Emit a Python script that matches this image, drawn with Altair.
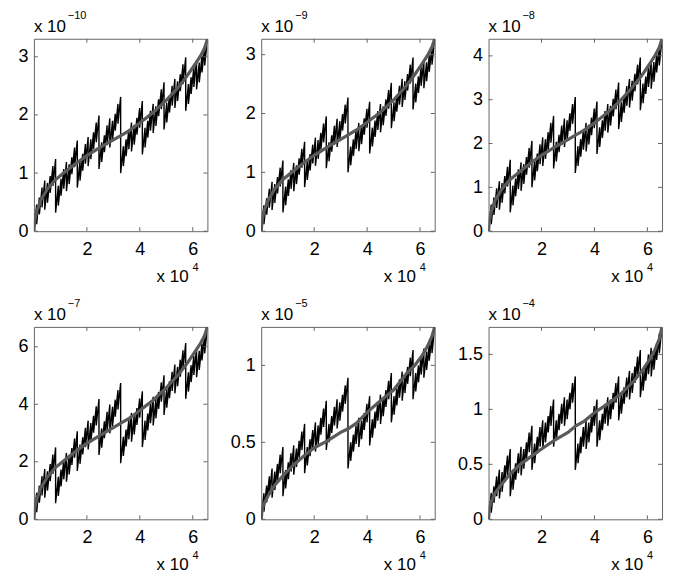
import altair as alt
import pandas as pd

# ---------------- data (values in units of the panel's exponent) ----------------
X_EDGES = list(range(0, 65537, 1024))          # sample index of sub-tooth boundaries
X_TICKS = [20000, 40000, 60000]

P1_LO = [0, .12, .29, .41, .37, .49, .66, .78,
         .32, .44, .61, .73, .69, .81, .98, 1.10,
         .75, .87, 1.04, 1.16, 1.12, 1.24, 1.41, 1.53,
         1.07, 1.19, 1.36, 1.48, 1.44, 1.56, 1.73, 1.85,
         1.00, 1.12, 1.29, 1.41, 1.37, 1.49, 1.66, 1.78,
         1.32, 1.44, 1.61, 1.73, 1.69, 1.81, 1.98, 2.10,
         1.75, 1.87, 2.04, 2.16, 2.12, 2.24, 2.41, 2.53,
         2.07, 2.19, 2.36, 2.48, 2.44, 2.56, 2.73, 2.85]
P1_HI = [.46, .58, .75, .87, .83, .95, 1.12, 1.24,
         .78, .90, 1.07, 1.19, 1.15, 1.27, 1.44, 1.56,
         1.21, 1.33, 1.50, 1.62, 1.58, 1.70, 1.87, 1.99,
         1.53, 1.65, 1.82, 1.94, 1.90, 2.02, 2.19, 2.31,
         1.46, 1.58, 1.75, 1.87, 1.83, 1.95, 2.12, 2.24,
         1.78, 1.90, 2.07, 2.19, 2.15, 2.27, 2.44, 2.56,
         2.21, 2.33, 2.50, 2.62, 2.58, 2.70, 2.87, 2.99,
         2.53, 2.65, 2.82, 2.94, 2.90, 3.02, 3.19, 3.31]

P2_LO = [0, .12, .28, .40, .36, .48, .64, .76,
         .32, .44, .60, .72, .68, .80, .96, 1.08,
         .75, .87, 1.03, 1.15, 1.11, 1.23, 1.39, 1.51,
         1.07, 1.19, 1.35, 1.47, 1.43, 1.55, 1.71, 1.83,
         1.00, 1.12, 1.28, 1.40, 1.36, 1.48, 1.64, 1.76,
         1.32, 1.44, 1.60, 1.72, 1.68, 1.80, 1.96, 2.08,
         1.75, 1.87, 2.03, 2.15, 2.11, 2.23, 2.39, 2.51,
         2.07, 2.19, 2.35, 2.47, 2.43, 2.55, 2.71, 2.83]
P2_HI = [.44, .56, .72, .84, .80, .92, 1.08, 1.20,
         .76, .88, 1.04, 1.16, 1.12, 1.24, 1.40, 1.52,
         1.19, 1.31, 1.47, 1.59, 1.55, 1.67, 1.83, 1.95,
         1.51, 1.63, 1.79, 1.91, 1.87, 1.99, 2.15, 2.27,
         1.44, 1.56, 1.72, 1.84, 1.80, 1.92, 2.08, 2.20,
         1.76, 1.88, 2.04, 2.16, 2.12, 2.24, 2.40, 2.52,
         2.19, 2.31, 2.47, 2.59, 2.55, 2.67, 2.83, 2.95,
         2.51, 2.63, 2.79, 2.91, 2.87, 2.99, 3.15, 3.27]

P3_LO = [0, .16, .37, .53, .49, .65, .86, 1.02,
         .43, .59, .80, .96, .92, 1.08, 1.29, 1.45,
         1.00, 1.16, 1.37, 1.53, 1.49, 1.65, 1.86, 2.02,
         1.43, 1.59, 1.80, 1.96, 1.92, 2.08, 2.29, 2.45,
         1.33, 1.49, 1.70, 1.86, 1.82, 1.98, 2.19, 2.35,
         1.76, 1.92, 2.13, 2.29, 2.25, 2.41, 2.62, 2.78,
         2.33, 2.49, 2.70, 2.86, 2.82, 2.98, 3.19, 3.35,
         2.76, 2.92, 3.13, 3.29, 3.25, 3.41, 3.62, 3.78]
P3_HI = [.61, .77, .98, 1.14, 1.10, 1.26, 1.47, 1.63,
         1.04, 1.20, 1.41, 1.57, 1.53, 1.69, 1.90, 2.06,
         1.61, 1.77, 1.98, 2.14, 2.10, 2.26, 2.47, 2.63,
         2.04, 2.20, 2.41, 2.57, 2.53, 2.69, 2.90, 3.06,
         1.94, 2.10, 2.31, 2.47, 2.43, 2.59, 2.80, 2.96,
         2.37, 2.53, 2.74, 2.90, 2.86, 3.02, 3.23, 3.39,
         2.94, 3.10, 3.31, 3.47, 3.43, 3.59, 3.80, 3.96,
         3.37, 3.53, 3.74, 3.90, 3.86, 4.02, 4.23, 4.39]

P4_LO = [0, .25, .58, .83, .75, 1.00, 1.33, 1.58,
         .56, .81, 1.14, 1.39, 1.31, 1.56, 1.89, 2.14,
         1.68, 1.93, 2.26, 2.51, 2.43, 2.68, 3.01, 3.26,
         2.24, 2.49, 2.82, 3.07, 2.99, 3.24, 3.57, 3.82,
         1.95, 2.20, 2.53, 2.78, 2.70, 2.95, 3.28, 3.53,
         2.51, 2.76, 3.09, 3.34, 3.26, 3.51, 3.84, 4.09,
         3.63, 3.88, 4.21, 4.46, 4.38, 4.63, 4.96, 5.21,
         4.19, 4.44, 4.77, 5.02, 4.94, 5.19, 5.52, 5.77]
P4_HI = [.92, 1.17, 1.50, 1.75, 1.67, 1.92, 2.25, 2.50,
         1.48, 1.73, 2.06, 2.31, 2.23, 2.48, 2.81, 3.06,
         2.60, 2.85, 3.18, 3.43, 3.35, 3.60, 3.93, 4.18,
         3.16, 3.41, 3.74, 3.99, 3.91, 4.16, 4.49, 4.74,
         2.87, 3.12, 3.45, 3.70, 3.62, 3.87, 4.20, 4.45,
         3.43, 3.68, 4.01, 4.26, 4.18, 4.43, 4.76, 5.01,
         4.55, 4.80, 5.13, 5.38, 5.30, 5.55, 5.88, 6.13,
         5.11, 5.36, 5.69, 5.94, 5.86, 6.11, 6.44, 6.69]

P5_LO = [0, .05, .11, .16, .14, .19, .25, .30,
         .15, .20, .26, .31, .29, .34, .40, .45,
         .30, .35, .41, .46, .44, .49, .55, .60,
         .45, .50, .56, .61, .59, .64, .70, .75,
         .33, .38, .44, .49, .47, .52, .58, .63,
         .48, .53, .59, .64, .62, .67, .73, .78,
         .63, .68, .74, .79, .77, .82, .88, .93,
         .78, .83, .89, .94, .92, .97, 1.03, 1.08]
P5_HI = [.17, .22, .28, .33, .31, .36, .42, .47,
         .32, .37, .43, .48, .46, .51, .57, .62,
         .47, .52, .58, .63, .61, .66, .72, .77,
         .62, .67, .73, .78, .76, .81, .87, .92,
         .50, .55, .61, .66, .64, .69, .75, .80,
         .65, .70, .76, .81, .79, .84, .90, .95,
         .80, .85, .91, .96, .94, .99, 1.05, 1.10,
         .95, 1.00, 1.06, 1.11, 1.09, 1.14, 1.20, 1.25]

P6_LO = [0, .06, .15, .21, .19, .25, .34, .40,
         .21, .27, .36, .42, .40, .46, .55, .61,
         .45, .51, .60, .66, .64, .70, .79, .85,
         .66, .72, .81, .87, .85, .91, 1.00, 1.06,
         .45, .51, .60, .66, .64, .70, .79, .85,
         .66, .72, .81, .87, .85, .91, 1.00, 1.06,
         .90, .96, 1.05, 1.11, 1.09, 1.15, 1.24, 1.30,
         1.11, 1.17, 1.26, 1.32, 1.30, 1.36, 1.45, 1.51]
P6_HI = [.24, .30, .39, .45, .43, .49, .58, .64,
         .45, .51, .60, .66, .64, .70, .79, .85,
         .69, .75, .84, .90, .88, .94, 1.03, 1.09,
         .90, .96, 1.05, 1.11, 1.09, 1.15, 1.24, 1.30,
         .69, .75, .84, .90, .88, .94, 1.03, 1.09,
         .90, .96, 1.05, 1.11, 1.09, 1.15, 1.24, 1.30,
         1.14, 1.20, 1.29, 1.35, 1.33, 1.39, 1.48, 1.54,
         1.35, 1.41, 1.50, 1.56, 1.54, 1.60, 1.69, 1.75]

# smooth (gray) curves
GX = [0, 300, 1000, 2500, 5000, 8000, 12000, 16000, 20000, 25000, 30000, 33000, 36000,
      40000, 45000, 50000, 55000, 58000, 61000, 63000, 64500, 65536]
P1_G = [0, .18, .33, .53, .72, .88, 1.03, 1.17, 1.30, 1.44, 1.57, 1.65, 1.73, 1.86, 2.04, 2.25, 2.50, 2.68, 2.88, 3.02, 3.15, 3.30]
P2_G = [0, .18, .33, .52, .71, .87, 1.02, 1.16, 1.29, 1.43, 1.56, 1.64, 1.72, 1.85, 2.02, 2.23, 2.48, 2.66, 2.86, 3.00, 3.13, 3.27]
P3_G = [0, .24, .44, .70, .96, 1.17, 1.37, 1.56, 1.73, 1.92, 2.09, 2.20, 2.30, 2.47, 2.71, 2.99, 3.33, 3.56, 3.83, 4.02, 4.19, 4.39]
P4_G = [0, .37, .67, 1.08, 1.46, 1.79, 2.09, 2.38, 2.64, 2.92, 3.19, 3.35, 3.51, 3.78, 4.14, 4.57, 5.08, 5.44, 5.85, 6.13, 6.39, 6.69]
P5_G = [0, .06, .10, .15, .22, .28, .35, .41, .465, .51, .565, .59, .625, .695, .77, .84, .95, 1.0, 1.07, 1.13, 1.19, 1.25]
P6_G = [0, .10, .16, .24, .32, .41, .50, .57, .64, .72, .79, .85, .89, .97, 1.05, 1.14, 1.26, 1.35, 1.46, 1.55, 1.64, 1.75]

Y_TICKS = [[0, 1, 2, 3], [0, 1, 2, 3], [0, 1, 2, 3, 4], [0, 2, 4, 6], [0, 0.5, 1], [0, 0.5, 1, 1.5]]
Y_EXP = ["\u221210", "\u22129", "\u22128", "\u22127", "\u22125", "\u22124"]
X_EXP = "4"

PANELS = [
    (P1_LO, P1_HI, P1_G), (P2_LO, P2_HI, P2_G), (P3_LO, P3_HI, P3_G),
    (P4_LO, P4_HI, P4_G), (P5_LO, P5_HI, P5_G), (P6_LO, P6_HI, P6_G),
]

# ---------------- styling ----------------
W, H = 174, 193
FONT = "Liberation Sans"
BOX = "#666666"
TL = 4  # tick length (px)


def make_panel(lo, hi, g, yticks, yexp):
    ymax = max(max(hi), max(g))
    rows = []
    for k in range(len(lo)):
        rows.append({"x": X_EDGES[k], "y": lo[k], "i": 2 * k})
        rows.append({"x": X_EDGES[k + 1], "y": hi[k], "i": 2 * k + 1})
    jag_df = pd.DataFrame(rows)
    g_df = pd.DataFrame({"x": GX, "y": g})

    xs = alt.Scale(domain=[0, 65536], nice=False, zero=False)
    ys = alt.Scale(domain=[0, ymax], nice=False, zero=False)
    xax = alt.Axis(values=X_TICKS, labelExpr="datum.value / 10000 + ''", ticks=False, tickSize=0,
                   domain=False, grid=False, title=None, labelFontSize=18, labelFont=FONT,
                   labelPadding=9, labelColor="black", labelFlush=False)
    yax = alt.Axis(values=yticks, labelExpr="datum.value + ''", ticks=False, tickSize=0,
                   domain=False, grid=False, title=None, labelFontSize=18, labelFont=FONT,
                   labelPadding=6, labelColor="black", labelFlush=False)
    X = alt.X("x:Q", scale=xs, axis=xax)
    Y = alt.Y("y:Q", scale=ys, axis=yax)

    jag = alt.Chart(jag_df).mark_line(color="black", strokeWidth=1.4, clip=True).encode(
        x=X, y=Y, order=alt.Order("i:Q"))
    smooth = alt.Chart(g_df).mark_line(color="#5a5a5a", strokeWidth=3.2, clip=True).encode(x=X, y=Y)

    xt_df = pd.DataFrame({"x": X_TICKS})
    yt_df = pd.DataFrame({"y": yticks})
    tick_b = alt.Chart(xt_df).mark_rule(color=BOX).encode(x=X, y=alt.value(H), y2=alt.value(H - TL))
    tick_t = alt.Chart(xt_df).mark_rule(color=BOX).encode(x=X, y=alt.value(0), y2=alt.value(TL))
    tick_l = alt.Chart(yt_df).mark_rule(color=BOX).encode(y=Y, x=alt.value(0), x2=alt.value(TL))
    tick_r = alt.Chart(yt_df).mark_rule(color=BOX).encode(y=Y, x=alt.value(W), x2=alt.value(W - TL))

    def txt(s, x, y, size):
        return alt.Chart(pd.DataFrame({"t": [s]})).mark_text(
            align="left", baseline="alphabetic", fontSize=size, font=FONT, color="black"
        ).encode(x=alt.value(x), y=alt.value(y), text="t:N")

    texts = [
        txt("x 10", 0, -7, 17), txt(yexp, 34, -20, 11),
        txt("x 10", 123, H + 51, 17), txt(X_EXP, 159, H + 40, 11),
    ]
    return alt.layer(jag, smooth, tick_b, tick_t, tick_l, tick_r, *texts).properties(width=W, height=H)


charts = [make_panel(lo, hi, g, Y_TICKS[i], Y_EXP[i]) for i, (lo, hi, g) in enumerate(PANELS)]
chart = alt.concat(*charts, columns=3, spacing={"row": 96, "column": 54}, bounds="flush").properties(
    padding={"left": 9, "top": 0, "right": 5, "bottom": 5}, background="white"
).configure_view(stroke=BOX, strokeWidth=1)

chart.save("out.html", embed_options={"renderer": "svg", "actions": False})
